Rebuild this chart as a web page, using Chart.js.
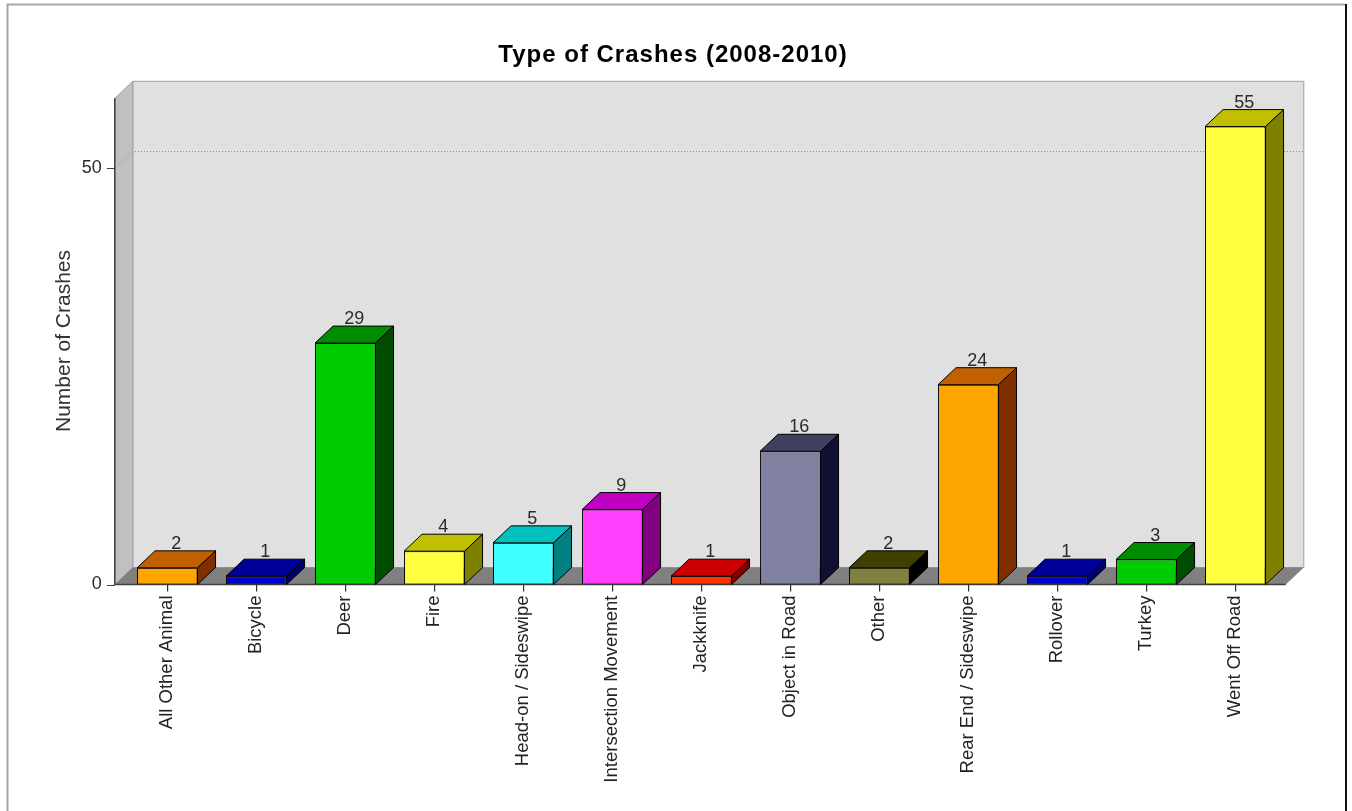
<!DOCTYPE html>
<html>
<head>
<meta charset="utf-8">
<title>Type of Crashes (2008-2010)</title>
<script src="https://cdn.jsdelivr.net/npm/chart.js@4.4.1/dist/chart.umd.min.js"></script>
<style>
  html, body { margin: 0; padding: 0; background: #ffffff; overflow: hidden; }
  canvas { display: block; }
</style>
</head>
<body>
<canvas id="crashChart" width="1352" height="811"></canvas>
<script>
// Crash counts by type, 2008-2010
const categories = [
  'All Other Animal', 'Bicycle', 'Deer', 'Fire', 'Head-on / Sideswipe',
  'Intersection Movement', 'Jackknife', 'Object in Road', 'Other',
  'Rear End / Sideswipe', 'Rollover', 'Turkey', 'Went Off Road'
];
const crashCounts = [2, 1, 29, 4, 5, 9, 1, 16, 2, 24, 1, 3, 55];
const yTickValues = [0, 50];
const yAxisMax = 58.4;

const chartTitle = 'Type of Crashes (2008-2010)';
const yAxisTitle = 'Number of Crashes';

// Repeating palette: front face, top face, side face
const frontPalette = ['#FFA500', '#0000CC', '#00CC00', '#FFFF40', '#40FFFF', '#FF40FF', '#FF3300', '#8080A0', '#808040'];
const topPalette   = ['#C06000', '#000096', '#008C00', '#C0C000', '#00C0C0', '#C000C0', '#CC0000', '#404060', '#404000'];
const sidePalette  = ['#803000', '#00006A', '#004C00', '#808000', '#008080', '#800080', '#800000', '#101030', '#000000'];

const DEPTH_X = 18;   // 3D depth offset, pixels to the right
const DEPTH_Y = 17;   // 3D depth offset, pixels upward
const FONT = '"Liberation Sans", Arial, Helvetica, sans-serif';

function poly(ctx, pts, fill, stroke, lw) {
  ctx.beginPath();
  ctx.moveTo(pts[0][0], pts[0][1]);
  for (let i = 1; i < pts.length; i++) ctx.lineTo(pts[i][0], pts[i][1]);
  ctx.closePath();
  if (fill) { ctx.fillStyle = fill; ctx.fill(); }
  if (stroke) { ctx.strokeStyle = stroke; ctx.lineWidth = lw || 1; ctx.stroke(); }
}

// Frame, walls, floor, gridlines and axis lines behind the bars
const scenePlugin = {
  id: 'scene3d',
  beforeDatasetsDraw(chart) {
    const { ctx, chartArea: a, scales } = chart;
    const ys = scales.y;
    const y0 = ys.getPixelForValue(0);
    const yTop = a.top;
    const fl = a.left - 8;    // front-left edge of the plot box
    const fr = a.right + 6;   // front-right edge of the plot box
    ctx.save();

    // outer frame
    ctx.strokeStyle = '#A8A89C';
    ctx.lineWidth = 2;
    ctx.beginPath();
    ctx.moveTo(7.5, 811); ctx.lineTo(7.5, 4.5); ctx.lineTo(1345, 4.5);
    ctx.stroke();
    ctx.strokeStyle = '#111111';
    ctx.lineWidth = 2;
    ctx.beginPath();
    ctx.moveTo(1346, 4); ctx.lineTo(1346, 811);
    ctx.stroke();

    // back wall
    poly(ctx, [[fl + DEPTH_X, yTop - DEPTH_Y], [fr + DEPTH_X, yTop - DEPTH_Y],
               [fr + DEPTH_X, y0 - DEPTH_Y], [fl + DEPTH_X, y0 - DEPTH_Y]], '#E0E0E0', '#A0A0A0', 1);
    // left wall
    poly(ctx, [[fl, yTop], [fl + DEPTH_X, yTop - DEPTH_Y],
               [fl + DEPTH_X, y0 - DEPTH_Y], [fl, y0]], '#C0C0C0', '#A0A0A0', 1);
    // floor
    poly(ctx, [[fl, y0], [fr, y0], [fr + DEPTH_X, y0 - DEPTH_Y], [fl + DEPTH_X, y0 - DEPTH_Y]], '#808080', null);

    // dotted gridlines
    ctx.setLineDash([1, 2]);
    ctx.strokeStyle = '#8C8C8C';
    ctx.lineWidth = 1;
    yTickValues.forEach(v => {
      if (v === 0) return;
      const py = Math.round(ys.getPixelForValue(v)) + 0.5;
      ctx.beginPath();
      ctx.moveTo(fl, py);
      ctx.lineTo(fl + DEPTH_X, py - DEPTH_Y);
      ctx.lineTo(fr + DEPTH_X, py - DEPTH_Y);
      ctx.stroke();
    });
    ctx.setLineDash([]);

    // axis lines and y tick marks
    ctx.strokeStyle = '#404040';
    ctx.lineWidth = 1.5;
    ctx.beginPath();
    ctx.moveTo(fl, yTop); ctx.lineTo(fl, y0); ctx.lineTo(fr, y0);
    ctx.stroke();
    ctx.lineWidth = 1;
    yTickValues.forEach(v => {
      const py = Math.round(ys.getPixelForValue(v)) + 0.5;
      ctx.beginPath();
      ctx.moveTo(fl - 8, py); ctx.lineTo(fl, py);
      ctx.stroke();
    });

    ctx.restore();
  },
  // top and side faces of each bar, plus value labels
  afterDatasetsDraw(chart) {
    const { ctx } = chart;
    const meta = chart.getDatasetMeta(0);
    ctx.save();
    ctx.lineJoin = 'miter';
    meta.data.forEach((bar, i) => {
      const p = bar.getProps(['x', 'y', 'base', 'width'], true);
      const l = p.x - p.width / 2, r = p.x + p.width / 2;
      const t = p.y, b = p.base;
      poly(ctx, [[l, t], [l + DEPTH_X, t - DEPTH_Y], [r + DEPTH_X, t - DEPTH_Y], [r, t]],
           topPalette[i % topPalette.length], '#000000', 1);
      poly(ctx, [[r, t], [r + DEPTH_X, t - DEPTH_Y], [r + DEPTH_X, b - DEPTH_Y], [r, b]],
           sidePalette[i % sidePalette.length], '#000000', 1);

      ctx.fillStyle = '#2A2A2A';
      ctx.font = '18px ' + FONT;
      ctx.textAlign = 'center';
      ctx.textBaseline = 'alphabetic';
      ctx.fillText(String(crashCounts[i]), p.x + DEPTH_X / 2, t - DEPTH_Y - 2);
    });
    ctx.restore();
  },
  // chart title and y axis title
  afterDraw(chart) {
    const { ctx } = chart;
    ctx.save();
    ctx.fillStyle = '#000000';
    ctx.font = 'bold 24px ' + FONT;
    ctx.letterSpacing = '1px';
    ctx.textAlign = 'center';
    ctx.textBaseline = 'alphabetic';
    ctx.fillText(chartTitle, 673, 62);
    ctx.letterSpacing = '0px';

    ctx.translate(64, 341);
    ctx.rotate(-Math.PI / 2);
    ctx.fillStyle = '#333333';
    ctx.font = '21px ' + FONT;
    ctx.textBaseline = 'middle';
    ctx.fillText(yAxisTitle, 0, 0);
    ctx.restore();
  }
};

new Chart(document.getElementById('crashChart'), {
  type: 'bar',
  data: {
    labels: categories,
    datasets: [{
      data: crashCounts,
      backgroundColor: crashCounts.map((_, i) => frontPalette[i % frontPalette.length]),
      borderColor: '#000000',
      borderWidth: 1,
      borderSkipped: false,
      categoryPercentage: 1.0,
      barPercentage: 0.68
    }]
  },
  options: {
    responsive: false,
    animation: false,
    devicePixelRatio: 1,
    layout: { padding: { left: 0, top: 98.3, right: 72.2, bottom: 0 } },
    plugins: {
      legend: { display: false },
      title: { display: false },
      tooltip: { enabled: false }
    },
    scales: {
      x: {
        afterFit(scale) { scale.height = 811 - 584.5; },
        border: { display: false },
        grid: {
          display: true, drawOnChartArea: false, drawTicks: true,
          tickLength: 7, offset: false, color: '#303030', lineWidth: 1.2
        },
        ticks: {
          autoSkip: false, minRotation: 90, maxRotation: 90, padding: 4,
          color: '#222222', font: { family: FONT, size: 18.5 }
        }
      },
      y: {
        min: 0,
        max: yAxisMax,
        afterFit(scale) { scale.width = 122.8; },
        afterBuildTicks(scale) { scale.ticks = yTickValues.map(v => ({ value: v })); },
        border: { display: false },
        grid: { display: false, drawTicks: false },
        ticks: {
          padding: 21,
          color: '#2A2A2A',
          font: { family: FONT, size: 18 }
        }
      }
    }
  },
  plugins: [scenePlugin]
});
</script>
</body>
</html>
